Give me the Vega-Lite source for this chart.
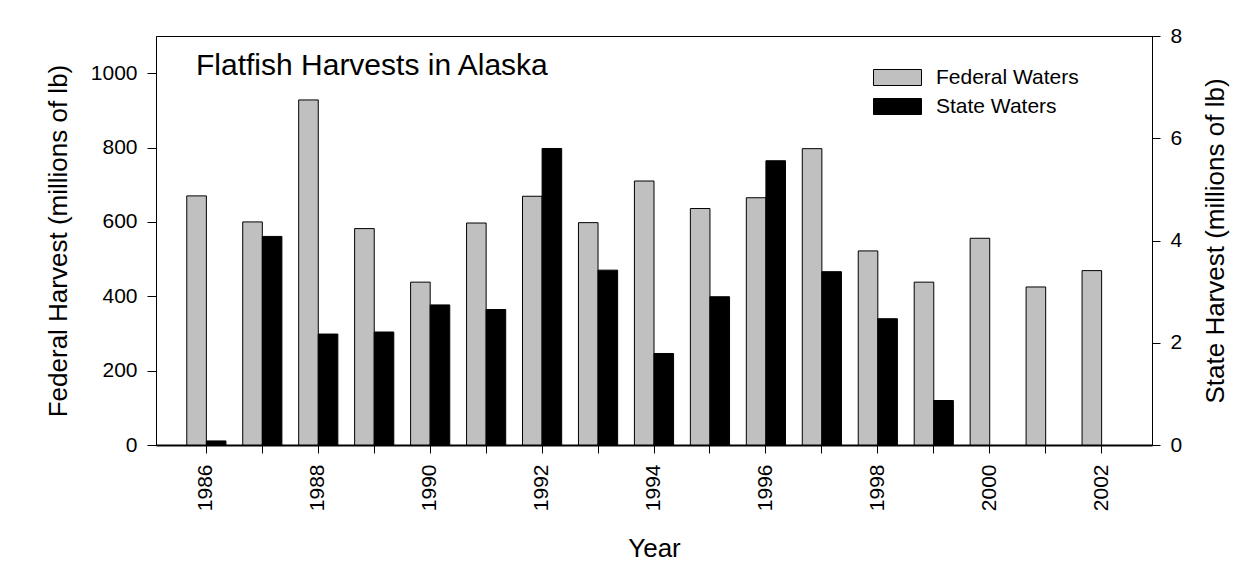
{
  "$schema": "https://vega.github.io/schema/vega-lite/v6.json",
  "width": 996,
  "height": 409,
  "autosize": {"type": "none"},
  "padding": {"left": 156, "top": 36, "right": 96, "bottom": 124},
  "background": "white",
  "config": {
    "font": "Liberation Sans",
    "view": {"stroke": "black", "strokeWidth": 1},
    "axis": {
      "grid": false,
      "labelFont": "Liberation Sans",
      "titleFont": "Liberation Sans",
      "labelColor": "black",
      "titleColor": "black",
      "tickColor": "black",
      "domainColor": "black",
      "titleFontWeight": "normal",
      "labelFontSize": 21,
      "titleFontSize": 26
    }
  },
  "title": {
    "text": "Flatfish Harvests in Alaska",
    "anchor": "start",
    "frame": "group",
    "orient": "top",
    "offset": 0,
    "dx": 40,
    "dy": 80,
    "fontSize": 30,
    "fontWeight": "normal",
    "baseline": "alphabetic",
    "font": "Liberation Sans",
    "color": "black"
  },
  "data": {
    "values": [
      {"year": 1986, "series": "Federal Waters", "value": 670},
      {"year": 1987, "series": "Federal Waters", "value": 600},
      {"year": 1988, "series": "Federal Waters", "value": 928},
      {"year": 1989, "series": "Federal Waters", "value": 582},
      {"year": 1990, "series": "Federal Waters", "value": 438},
      {"year": 1991, "series": "Federal Waters", "value": 597},
      {"year": 1992, "series": "Federal Waters", "value": 669},
      {"year": 1993, "series": "Federal Waters", "value": 598},
      {"year": 1994, "series": "Federal Waters", "value": 710},
      {"year": 1995, "series": "Federal Waters", "value": 636},
      {"year": 1996, "series": "Federal Waters", "value": 665},
      {"year": 1997, "series": "Federal Waters", "value": 797},
      {"year": 1998, "series": "Federal Waters", "value": 522},
      {"year": 1999, "series": "Federal Waters", "value": 438},
      {"year": 2000, "series": "Federal Waters", "value": 556},
      {"year": 2001, "series": "Federal Waters", "value": 425},
      {"year": 2002, "series": "Federal Waters", "value": 469},
      {"year": 1986, "series": "State Waters", "value": 0.08},
      {"year": 1987, "series": "State Waters", "value": 4.08},
      {"year": 1988, "series": "State Waters", "value": 2.17},
      {"year": 1989, "series": "State Waters", "value": 2.21},
      {"year": 1990, "series": "State Waters", "value": 2.74},
      {"year": 1991, "series": "State Waters", "value": 2.65},
      {"year": 1992, "series": "State Waters", "value": 5.80},
      {"year": 1993, "series": "State Waters", "value": 3.42},
      {"year": 1994, "series": "State Waters", "value": 1.79},
      {"year": 1995, "series": "State Waters", "value": 2.90},
      {"year": 1996, "series": "State Waters", "value": 5.56},
      {"year": 1997, "series": "State Waters", "value": 3.39},
      {"year": 1998, "series": "State Waters", "value": 2.47},
      {"year": 1999, "series": "State Waters", "value": 0.87}
    ]
  },
  "layer": [
    {
      "transform": [{"filter": "datum.series === 'Federal Waters'"}],
      "mark": {"type": "bar", "stroke": "black", "strokeWidth": 1},
      "encoding": {
        "x": {
          "field": "year",
          "type": "ordinal",
          "scale": {"domain": [1986,1987,1988,1989,1990,1991,1992,1993,1994,1995,1996,1997,1998,1999,2000,2001,2002], "paddingInner": 0.3, "paddingOuter": 0.55},
          "axis": {"title": "Year", "labelAngle": -90, "labelExpr": "datum.value % 2 == 0 ? datum.label : ''", "tickSize": 8, "labelPadding": 11, "domainWidth": 2, "titlePadding": 25}
        },
        "xOffset": {"field": "series", "type": "nominal", "scale": {"domain": ["Federal Waters", "State Waters"], "paddingInner": 0, "paddingOuter": 0}},
        "y": {
          "field": "value",
          "type": "quantitative",
          "scale": {"domain": [0, 1100], "nice": false},
          "axis": {"title": "Federal Harvest (millions of lb)", "values": [0,200,400,600,800,1000], "format": "d", "orient": "left", "tickSize": 9, "labelPadding": 10, "titlePadding": 19}
        },
        "color": {
          "field": "series",
          "type": "nominal",
          "scale": {"domain": ["Federal Waters", "State Waters"], "range": ["#c0c0c0", "#000000"]},
          "legend": {"title": null, "orient": "none", "legendX": 731, "legendY": 31, "symbolType": "M-3,-1H3V1H-3Z", "symbolSize": 256, "symbolStrokeColor": "black", "symbolStrokeWidth": 1, "symbolOpacity": 1, "labelFontSize": 21, "labelOffset": 28, "rowPadding": 7, "labelFont": "Liberation Sans", "labelColor": "black"}
        }
      }
    },
    {
      "transform": [{"filter": "datum.series === 'State Waters'"}],
      "mark": {"type": "bar", "stroke": "black", "strokeWidth": 1},
      "encoding": {
        "x": {
          "field": "year",
          "type": "ordinal",
          "scale": {"domain": [1986,1987,1988,1989,1990,1991,1992,1993,1994,1995,1996,1997,1998,1999,2000,2001,2002], "paddingInner": 0.3, "paddingOuter": 0.55},
          "axis": {"title": "Year", "labelAngle": -90, "labelExpr": "datum.value % 2 == 0 ? datum.label : ''", "tickSize": 8, "labelPadding": 11, "domainWidth": 2, "titlePadding": 25}
        },
        "xOffset": {"field": "series", "type": "nominal", "scale": {"domain": ["Federal Waters", "State Waters"], "paddingInner": 0, "paddingOuter": 0}},
        "y": {
          "field": "value",
          "type": "quantitative",
          "scale": {"domain": [0, 8], "nice": false},
          "axis": {"title": "State Harvest (millions of lb)", "values": [0,2,4,6,8], "orient": "right", "tickSize": 8, "labelPadding": 10, "titlePadding": 21, "titleAngle": 270, "titleBaseline": "top"}
        },
        "color": {
          "field": "series",
          "type": "nominal",
          "scale": {"domain": ["Federal Waters", "State Waters"], "range": ["#c0c0c0", "#000000"]}
        }
      }
    }
  ],
  "resolve": {"scale": {"y": "independent"}}
}
